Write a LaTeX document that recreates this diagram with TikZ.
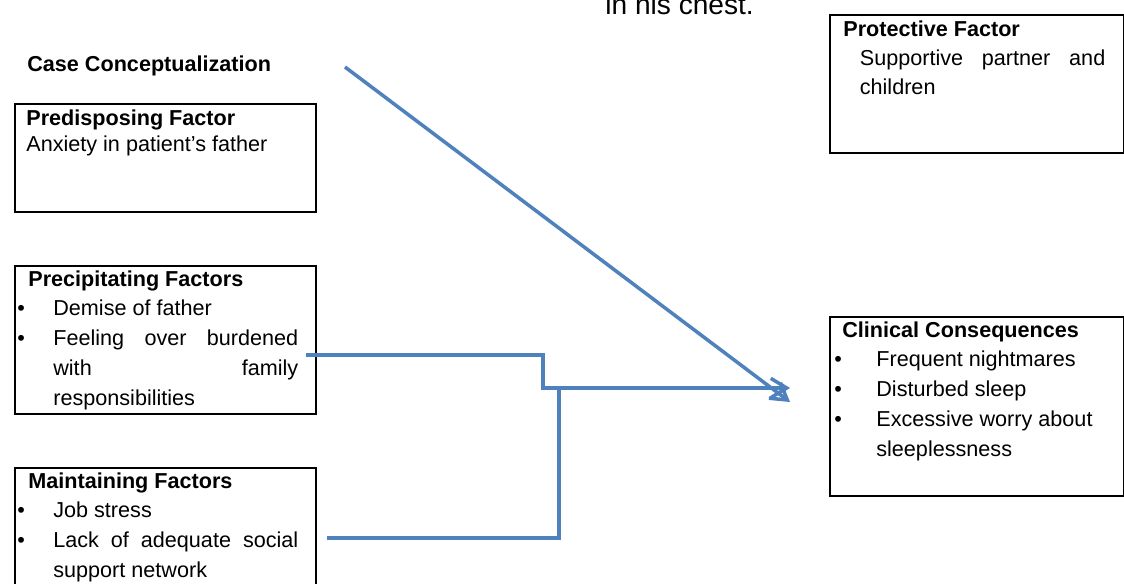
\documentclass[tikz,border=0pt]{standalone}
\usepackage{fontspec}
\setmainfont{Liberation Sans}
\usetikzlibrary{arrows.meta}

\definecolor{linkblue}{RGB}{79,129,189}
% bullet with a fixed indent before the item text
\newcommand{\bulletline}[2]{\makebox[#1][l]{\textbullet}#2}

\begin{document}
\begin{tikzpicture}[x=0.02cm,y=-0.02cm,
  factorbox/.style={draw, line width=1.1pt, anchor=north west, inner sep=0pt},
  textblock/.style={anchor=base west, inner sep=0pt, font=\fontsize{12.3}{17}\selectfont},
  link/.style={draw=linkblue, line width=2pt},
  linkarrow/.style={link, -{Straight Barb[length=9pt,width=11pt]}}]
\clip (0,0) rectangle (1124,583);

% boxes
\node[factorbox, minimum width=6.02cm, minimum height=2.16cm] (predisposing) at (14,103) {};
\node[factorbox, minimum width=5.88cm, minimum height=2.76cm] (protective) at (829,14) {};
\node[factorbox, minimum width=6.02cm, minimum height=2.96cm] (precipitating) at (14,265) {};
\node[factorbox, minimum width=6.02cm, minimum height=3.06cm] (maintaining) at (14,467) {};
\node[factorbox, minimum width=5.88cm, minimum height=3.58cm] (clinical) at (829,316) {};

% texts
\node[anchor=base west, inner sep=0pt, font=\fontsize{16}{19}\selectfont] (chest) at (605,14) {in his chest.};
\node[textblock] (casetitle) at (27,71) {\textbf{Case Conceptualization}};
\node[textblock] (predtext) at (26,125) {\parbox[t]{6cm}{%
  \textbf{Predisposing Factor}\\[-2pt]
  Anxiety in patient’s father}};
\node[textblock] (prottext) at (843,36) {\parbox[t]{6cm}{%
  \textbf{Protective Factor}\\
  \hspace*{0.33cm}\makebox[4.91cm][s]{Supportive partner and}\\[-0.5pt]
  \hspace*{0.33cm}children}};
\node[textblock] (prectext) at (17,286) {\parbox[t]{6cm}{%
  \hspace*{0.22cm}\textbf{Precipitating Factors}\\
  \bulletline{0.72cm}{Demise of father}\\
  \bulletline{0.72cm}{\makebox[4.9cm][s]{Feeling over burdened}}\\
  \hspace*{0.72cm}\makebox[4.9cm][s]{with family}\\
  \hspace*{0.72cm}responsibilities}};
\node[textblock] (mainttext) at (17,488) {\parbox[t]{6cm}{%
  \hspace*{0.22cm}\textbf{Maintaining Factors}\\
  \bulletline{0.72cm}{Job stress}\\
  \bulletline{0.72cm}{\makebox[4.9cm][s]{Lack of adequate social}}\\
  \hspace*{0.72cm}support network}};
\node[textblock] (clintext) at (834,337) {\parbox[t]{6cm}{%
  \hspace*{0.16cm}\textbf{Clinical Consequences}\\
  \bulletline{0.84cm}{Frequent nightmares}\\
  \bulletline{0.84cm}{Disturbed sleep}\\
  \bulletline{0.84cm}{Excessive worry about}\\
  \hspace*{0.84cm}sleeplessness}};

% connectors
\coordinate (diagstart) at (345,67);
\coordinate (diagend) at (790,402);
\coordinate (precout) at (306,355);
\coordinate (maintout) at (327,538);
\coordinate (merge) at (559,388);
\coordinate (joinend) at (790,388);
\draw[linkarrow] (diagstart) -- (diagend);
\draw[linkarrow] (precout) -- ++(237,0) |- (joinend);
\draw[link] (maintout) -| (merge);
\end{tikzpicture}
\end{document}
